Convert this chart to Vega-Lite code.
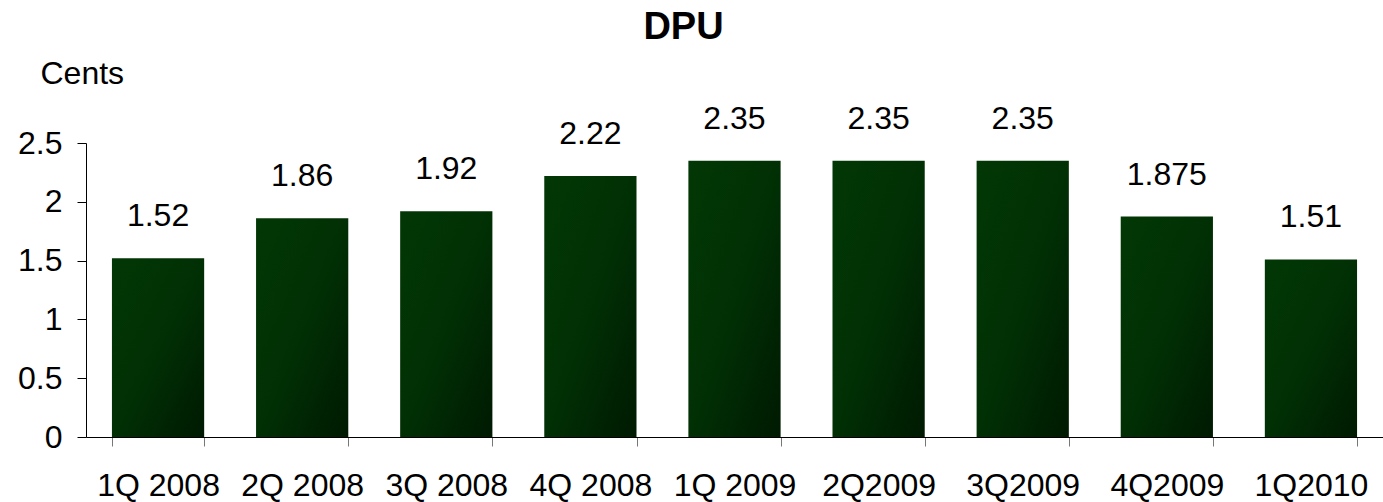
{
  "$schema": "https://vega.github.io/schema/vega-lite/v6.json",
  "width": 1297,
  "height": 294,
  "autosize": {"type": "none"},
  "padding": {"left": 86, "top": 143, "right": 0, "bottom": 65},
  "background": "white",
  "title": {
    "text": "DPU",
    "fontSize": 38,
    "fontWeight": "bold",
    "font": "Liberation Sans",
    "color": "black",
    "anchor": "middle",
    "dx": -51,
    "offset": 10
  },
  "data": {
    "values": [
      {"q": "1Q 2008", "dpu": 1.52},
      {"q": "2Q 2008", "dpu": 1.86},
      {"q": "3Q 2008", "dpu": 1.92},
      {"q": "4Q 2008", "dpu": 2.22},
      {"q": "1Q 2009", "dpu": 2.35},
      {"q": "2Q2009", "dpu": 2.35},
      {"q": "3Q2009", "dpu": 2.35},
      {"q": "4Q2009", "dpu": 1.875},
      {"q": "1Q2010", "dpu": 1.51}
    ]
  },
  "encoding": {
    "x": {
      "field": "q",
      "type": "nominal",
      "sort": null,
      "scale": {"paddingInner": 0.36, "paddingOuter": 0.18},
      "axis": {
        "title": null,
        "labelAngle": 0,
        "labelFont": "Liberation Sans",
        "labelFontSize": 32,
        "labelColor": "black",
        "labelPadding": 24,
        "tickBand": "extent",
        "tickSize": 9,
        "tickColor": "#777777",
        "domainColor": "black",
        "grid": false
      }
    },
    "y": {
      "field": "dpu",
      "type": "quantitative",
      "scale": {"domain": [0, 2.5], "nice": false},
      "axis": {
        "values": [0, 0.5, 1, 1.5, 2, 2.5],
        "format": "~g",
        "title": "Cents",
        "titleAngle": 0,
        "titleAlign": "left",
        "titleBaseline": "alphabetic",
        "titleX": -46,
        "titleY": -60,
        "titleFont": "Liberation Sans",
        "titleFontSize": 32,
        "titleFontWeight": "normal",
        "titleColor": "black",
        "labelFont": "Liberation Sans",
        "labelFontSize": 32,
        "labelColor": "black",
        "labelPadding": 15,
        "tickSize": 9,
        "tickColor": "black",
        "domainColor": "black",
        "grid": false
      }
    }
  },
  "layer": [
    {
      "mark": {
        "type": "bar",
        "color": {
          "gradient": "linear",
          "x1": 0, "y1": 0, "x2": 1, "y2": 1,
          "stops": [
            {"offset": 0, "color": "#023805"},
            {"offset": 0.5, "color": "#013004"},
            {"offset": 1, "color": "#001a02"}
          ]
        }
      }
    },
    {
      "mark": {
        "type": "text",
        "baseline": "alphabetic",
        "dy": -32,
        "font": "Liberation Sans",
        "fontSize": 32,
        "color": "black"
      },
      "encoding": {
        "text": {"field": "dpu", "type": "quantitative", "format": "~g"}
      }
    }
  ],
  "config": {"view": {"stroke": null}}
}
